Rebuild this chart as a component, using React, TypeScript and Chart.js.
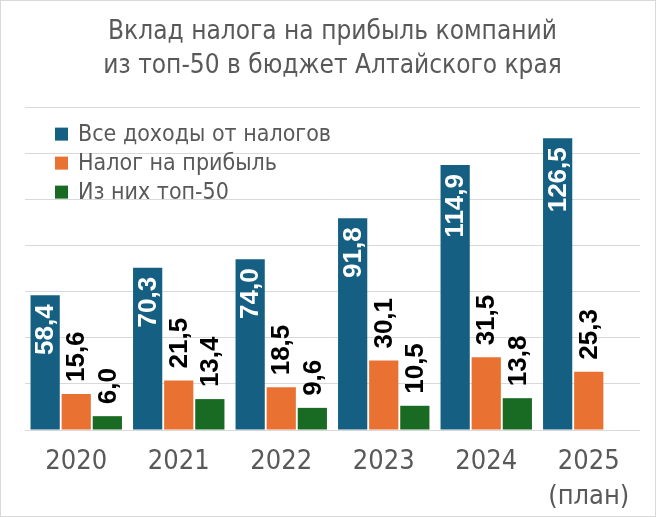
import React, { useEffect, useRef } from "react";
import { Chart, registerables } from "chart.js";

Chart.register(...registerables);

const titleLines = ["Вклад налога на прибыль компаний", "из топ-50 в бюджет Алтайского края"];
const categories: (string | string[])[] = ["2020", "2021", "2022", "2023", "2024", ["2025", "(план)"]];
const seriesNames = ["Все доходы от налогов", "Налог на прибыль", "Из них топ-50"];
const allTaxes = [58.4, 70.3, 74.0, 91.8, 114.9, 126.5];
const profitTax = [15.6, 21.5, 18.5, 30.1, 31.5, 25.3];
const top50: (number | null)[] = [6.0, 13.4, 9.6, 10.5, 13.8, null];
const yMin = 0;
const yMax = 140;
const yStep = 20;

const colors = ["#156082", "#E97132", "#196B24"];
const NARROW = '"Liberation Sans Narrow", "DejaVu Sans Condensed", "Roboto", sans-serif';
const LABEL_FONT = 'bold 26px "Liberation Sans", Arial, sans-serif';

const fmt = (v: number) => v.toFixed(1).replace(".", ",");

const labelsPlugin = {
  id: "barLabels",
  afterDatasetsDraw(chart: any) {
    const ctx = chart.ctx;
    chart.data.datasets.forEach((ds: any, di: number) => {
      const meta = chart.getDatasetMeta(di);
      meta.data.forEach((el: any, i: number) => {
        const v = ds.data[i];
        if (v === null || v === undefined) return;
        ctx.save();
        ctx.font = LABEL_FONT;
        ctx.textBaseline = "middle";
        if (di === 0) {
          ctx.fillStyle = "#ffffff";
          ctx.translate(el.x, el.y + 9);
          ctx.rotate(-Math.PI / 2);
          ctx.textAlign = "right";
        } else {
          ctx.fillStyle = "#000000";
          ctx.translate(el.x, el.y - 12);
          ctx.rotate(-Math.PI / 2);
          ctx.textAlign = "left";
        }
        ctx.fillText(fmt(v), 0, 1);
        ctx.restore();
      });
    });
  },
};

const legendPlugin = {
  id: "customLegend",
  afterDraw(chart: any) {
    const ctx = chart.ctx;
    const left = chart.chartArea.left + 30;
    const top = chart.chartArea.top + 27;
    const rowH = 29;
    ctx.save();
    ctx.font = `23px ${NARROW}`;
    ctx.textBaseline = "middle";
    ctx.textAlign = "left";
    chart.data.datasets.forEach((ds: any, i: number) => {
      const cy = top + i * rowH;
      ctx.fillStyle = ds.backgroundColor;
      ctx.fillRect(left, cy - 6.5, 13, 13);
      ctx.fillStyle = "#595959";
      ctx.fillText(ds.label, left + 23, cy + 1);
    });
    ctx.restore();
  },
};

export default function App() {
  const ref = useRef<HTMLCanvasElement | null>(null);
  useEffect(() => {
    document.body.style.margin = "0";
    if (!ref.current) return;
    const chart = new Chart(ref.current, {
      type: "bar",
      data: {
        labels: categories,
        datasets: [
          { label: seriesNames[0], data: allTaxes, backgroundColor: colors[0] },
          { label: seriesNames[1], data: profitTax, backgroundColor: colors[1] },
          { label: seriesNames[2], data: top50, backgroundColor: colors[2] },
        ],
      },
      options: {
        animation: false,
        responsive: true,
        maintainAspectRatio: false,
        layout: { padding: { left: 24, right: 15, top: 0, bottom: 0 } },
        datasets: { bar: { categoryPercentage: 0.91, barPercentage: 0.94 } },
        plugins: {
          legend: { display: false },
          tooltip: { enabled: false },
          title: {
            display: true,
            text: titleLines,
            color: "#595959",
            font: { family: NARROW, size: 26, weight: "normal", lineHeight: 1.31 },
            padding: { top: 14, bottom: 24 },
          },
        },
        scales: {
          x: {
            grid: { display: false, drawTicks: false },
            border: { display: false },
            afterFit: (scale: any) => {
              scale.height = 86;
            },
            ticks: {
              color: "#595959",
              font: { family: NARROW, size: 27, lineHeight: 1.3 },
              padding: 14,
              maxRotation: 0,
              autoSkip: false,
            },
          },
          y: {
            min: yMin,
            max: yMax,
            ticks: { display: false, stepSize: yStep },
            grid: { color: "#d9d9d9", lineWidth: 1, drawTicks: false },
            border: { display: false },
          },
        },
      },
      plugins: [labelsPlugin, legendPlugin],
    });
    return () => chart.destroy();
  }, []);
  return (
    <div
      style={{
        position: "absolute",
        left: 0,
        top: 0,
        width: 656,
        height: 517,
        boxSizing: "border-box",
        border: "1px solid #d9d9d9",
        background: "#ffffff",
      }}
    >
      <div style={{ position: "relative", width: "100%", height: "100%" }}>
        <canvas ref={ref} />
      </div>
    </div>
  );
}
